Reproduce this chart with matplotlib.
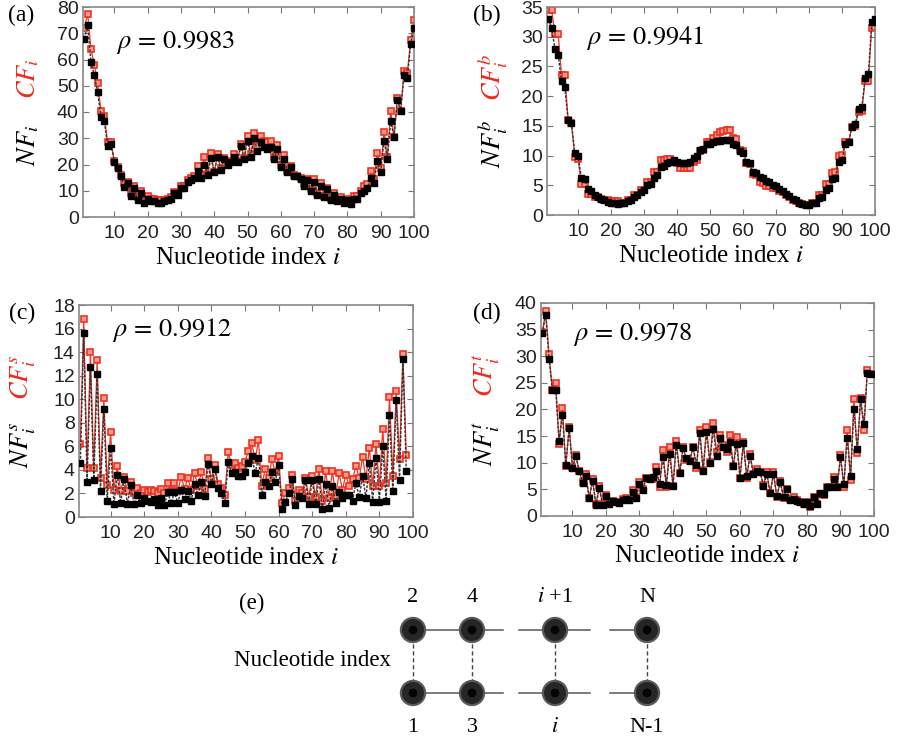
import numpy as np
import matplotlib
matplotlib.use("Agg")
import matplotlib.pyplot as plt

plt.rcParams['mathtext.fontset'] = 'stix'
plt.rcParams['font.family'] = ['Liberation Sans', 'DejaVu Sans']

# ---- data ----
nf_a = [68, 73, 59, 54, 47.5, 38, 36.5, 27, 28, 21, 18.5, 15.5, 11.5, 13, 8, 11, 6.5, 9, 5.5, 7,
        6, 6, 5.5, 5.5, 6, 6.5, 7, 9, 8.5, 11, 11, 13.5, 14, 15, 17.5, 15, 20, 16, 22.5, 17,
        23, 18, 22, 20, 21, 23, 21, 27, 22, 29, 23, 30, 25, 28.5, 26.5, 26, 26.5, 22, 26, 19,
        22, 17, 19, 15.5, 15.5, 14.5, 12, 14, 10, 13.5, 8.5, 12, 7.5, 10.5, 6.5, 8.5, 6, 7, 5.5, 6.5,
        5, 7, 7, 9, 10, 11, 15, 13, 21.5, 17, 29, 22, 36.5, 30.5, 44.5, 40.5, 54, 53, 66, 72]
cf_a = [72, 77.5, 64, 58, 51, 40.5, 38.5, 28.5, 28.5, 21.5, 19, 16, 13, 13.5, 9, 12, 7.5, 10, 6.5, 8,
        7, 7, 6.5, 6.5, 6.5, 7, 7.5, 9.5, 9, 12, 12, 14, 15, 15.5, 19.5, 16, 23, 16.5, 24.5, 17,
        24, 18.5, 22.5, 20.5, 21.5, 24, 21.5, 28, 22.5, 31, 24, 32, 27, 31, 29, 28.5, 29, 23, 27.5, 20,
        23.5, 17.5, 19.5, 16, 15.5, 15, 12.5, 14.5, 10.5, 14.5, 9, 13, 8, 11, 7, 9, 6.5, 7.5, 6, 7,
        5.5, 8, 8, 10, 12, 12.5, 17.5, 14.5, 24.5, 18.5, 32.5, 23, 40.5, 30.5, 45.5, 40.5, 55.5, 55, 67.5, 75]

nf_b = [33, 31.5, 28, 27, 22.5, 21.5, 16, 15.5, 10.5, 10, 6.3, 6, 4.3, 4, 3.3, 3, 2.7, 2.5, 2.2, 2.1,
        2, 1.9, 2, 2.1, 2.3, 2.5, 3, 3.3, 3.8, 4.2, 5, 5.3, 6.3, 6.8, 8, 8.3, 8.8, 8.9, 9.2, 9,
        8.8, 8.7, 8.8, 9, 9.6, 9.9, 11, 11.1, 12, 12, 12.3, 12.4, 12.5, 12.6, 12.7, 12.6, 12, 11.8, 10.8, 10.5,
        9, 8.8, 7.3, 7, 6.4, 6.2, 5.7, 5.5, 5.1, 4.9, 4.4, 4.1, 3.5, 3.2, 2.7, 2.5, 2, 1.9, 1.6, 1.7,
        2, 2, 2.8, 3, 4.2, 4.5, 6, 6.3, 9, 9.3, 12, 12.2, 14.8, 15.3, 17.8, 18.1, 23, 23.7, 32.4, 33]
cf_b = [34.5, 34.5, 30.5, 30.5, 23.5, 23.5, 16, 15.5, 9.8, 9.5, 5.2, 5.2, 3.5, 3.5, 3, 3, 2.7, 2.5, 2.5, 2.4,
        2.3, 2.3, 2.1, 2.1, 2.5, 2.6, 3.3, 3.4, 4.2, 4.2, 5.5, 5.6, 7.3, 7.3, 9.2, 9.2, 9.4, 9.4, 8.9, 8.7,
        7.9, 7.9, 7.9, 7.9, 8.9, 9.2, 10.8, 11, 12.2, 12.3, 13, 13.5, 14, 14.2, 14.3, 14.3, 13, 12.8, 11, 10.8,
        8.8, 8.6, 6.9, 6.7, 5.6, 5.4, 4.9, 4.8, 4.6, 4.5, 4.1, 3.9, 3.3, 3.1, 2.6, 2.4, 2, 1.9, 1.6, 1.6,
        2.1, 2.1, 3.3, 3.4, 5.2, 5.2, 7.1, 7.2, 10, 10.1, 12.2, 12.3, 14.8, 15, 17.3, 17.5, 22.6, 22.6, 31.5, 31.6]

nf_c = [4.6, 15.6, 3.0, 12.7, 3.1, 12.1, 2.2, 9.2, 1.4, 5.9, 1.1, 3.6, 1.2, 3.2, 1.1, 2.7, 1.1, 1.9, 1.2, 1.6,
        1.4, 1.3, 1.5, 1.0, 1.6, 1.0, 2.1, 1.2, 2.1, 1.2, 2.3, 1.5, 2.2, 1.4, 2.8, 1.9, 3.0, 1.8, 4.5, 2.8,
        4.1, 2.5, 2.0, 1.2, 4.7, 3.7, 3.8, 3.5, 3.5, 3.8, 4.6, 5.2, 3.7, 5.0, 1.9, 3.0, 2.6, 3.8, 3.0, 4.4,
        0.7, 1.3, 2.0, 3.2, 1.0, 1.8, 1.6, 3.1, 1.1, 3.1, 1.1, 3.2, 0.7, 2.8, 0.8, 2.6, 1.2, 2.1, 1.6, 1.9,
        1.9, 1.4, 2.9, 1.7, 3.5, 1.6, 4.6, 1.3, 5.0, 1.3, 6.0, 1.4, 8.7, 2.2, 9.9, 3.1, 13.4, 3.9]
cf_c = [6.2, 16.8, 4.2, 14.0, 4.2, 13.3, 3.3, 10.1, 2.7, 7.2, 2.3, 4.3, 2.2, 3.4, 2.2, 3.0, 2.0, 2.5, 2.0, 2.3,
        2.1, 2.3, 2.2, 2.0, 2.4, 2.0, 2.9, 2.2, 2.9, 2.2, 3.4, 2.4, 3.3, 2.3, 3.7, 2.6, 3.8, 2.4, 5.0, 3.2,
        4.4, 2.8, 2.5, 1.9, 5.5, 4.4, 4.6, 4.2, 4.3, 4.7, 5.6, 6.3, 4.8, 6.5, 2.6, 4.1, 3.3, 4.9, 3.8, 5.2,
        1.2, 2.0, 2.5, 3.6, 1.4, 2.3, 2.0, 3.3, 1.7, 3.5, 1.7, 4.1, 1.4, 3.9, 1.6, 3.9, 1.8, 3.7, 2.3, 3.6,
        2.6, 3.2, 4.3, 3.3, 5.1, 3.2, 5.9, 2.6, 6.2, 2.6, 7.5, 2.9, 10.2, 3.5, 10.7, 4.9, 13.8, 5.3]

nf_d = [34.3, 37.8, 29.5, 23.7, 23.6, 14, 19, 9.5, 16.5, 9, 11.2, 8.5, 6.2, 7.6, 3.3, 6.6, 2, 5.3, 2, 3.8,
        2.3, 2.8, 2.7, 2.5, 3, 3.2, 3, 4.6, 3.4, 6, 4.8, 7.2, 7, 7.3, 8.5, 6.1, 11, 5.8, 11.6, 5.7,
        13.3, 8, 12.8, 10.8, 10.4, 13, 9.5, 15.5, 8.5, 15.7, 10, 16.4, 11.3, 14.6, 13, 12.5, 13.9, 9.4, 13.5, 7.2,
        13.7, 7.5, 11.2, 7.8, 8.5, 8.2, 5.7, 7.8, 4.3, 7.8, 3.7, 6.3, 3.6, 5, 3, 3.2, 2.8, 2.6, 2.2, 2.6,
        1.8, 3.6, 2.3, 4.4, 4.1, 5.5, 5.4, 7, 5.5, 11, 6, 14.6, 7.5, 20.1, 12.5, 22, 17.3, 26.8, 26.6]
cf_d = [34.5, 38.5, 30.5, 23.6, 24.9, 13.6, 20.3, 9.4, 16.7, 9.2, 11.4, 8.4, 6.4, 7.8, 3.3, 6.9, 2.2, 5.6, 2.2, 4.0,
        2.3, 2.8, 2.6, 2.7, 3.1, 3.4, 3, 4.8, 3.6, 6.3, 5, 7.2, 7, 7.0, 9.2, 5.5, 12.4, 5.4, 13, 5.7,
        14.1, 8, 12.9, 10.6, 10.4, 13, 9, 16.2, 8.6, 16.7, 10.2, 17.5, 12.1, 15.3, 13.4, 12.1, 15.2, 9.3, 14.8, 7.2,
        13.9, 7.1, 11.7, 7.8, 8.8, 8.2, 5.9, 8.2, 4.3, 8.2, 3.5, 6.6, 3.4, 5, 3.1, 3.6, 3, 2.6, 2.2, 2.7,
        1.6, 3.5, 2.2, 4.2, 4.0, 5.4, 5.4, 7.4, 5.4, 11.4, 5.4, 16.1, 6.8, 22, 11.8, 22.1, 16.1, 27.5, 26.6]

rho = ['0.9983', '0.9941', '0.9912', '0.9978']
sup = ['', 'b', 's', 't']
panel = ['(a)', '(b)', '(c)', '(d)']
ymax = [80, 35, 18, 40]
ystep = [10, 5, 2, 5]

# bottom node row labels / top node row labels of the sketch in (e)
lab_bottom = ['1', '3', '$i$', 'N-1']
lab_top = ['2', '4', '$i$ +1', 'N']

W, H = 897, 740
fig = plt.figure(figsize=(W / 100, H / 100), dpi=100)

# axes boxes in pixels: left, top, right, bottom
boxes = [(83, 7, 414, 217), (547, 7, 875, 215), (79, 305, 413, 517), (541, 303, 874, 516)]
rho_pos = [(0.10, 0.83), (0.12, 0.85), (0.10, 0.88), (0.096, 0.85)]
panel_pos = [(21, 15), (487, 15), (22, 313), (487, 313)]
series = [(nf_a, cf_a), (nf_b, cf_b), (nf_c, cf_c), (nf_d, cf_d)]
serif = ['Liberation Serif', 'DejaVu Serif']

for k in range(4):
    l, t, r, b = boxes[k]
    ax = fig.add_axes([l / W, 1 - b / H, (r - l) / W, (b - t) / H])
    nf, cf = series[k]
    x_nf = np.arange(1, len(nf) + 1)
    x_cf = np.arange(1, len(cf) + 1)
    ax.plot(x_nf, nf, color='#333333', lw=1.0, ls=(0, (2, 1)), marker='s', ms=4.4,
            mfc='black', mec='black', zorder=3)
    ax.plot(x_cf, cf, color='#ee2a1a', lw=0.9, marker='s', ms=4.6,
            mfc='#ff9a88', mec='#ee2a1a', mew=1.2, zorder=2, alpha=0.95)
    ax.set_xlim(0.6, 100)
    ax.set_ylim(0, ymax[k])
    ax.set_xticks(range(10, 101, 10))
    ax.set_yticks(range(0, ymax[k] + 1, ystep[k]))
    ax.tick_params(direction='in', top=True, right=True, length=4, width=0.8,
                   color='#777777', labelsize=14, labelcolor='#222222', pad=3)
    ax.tick_params(axis='x', pad=6)
    for s in ax.spines.values():
        s.set_color('#888888')
        s.set_linewidth(1.2)
    ax.set_xlabel('Nucleotide index $i$', family=serif, fontsize=18, labelpad=3)
    ax.text(rho_pos[k][0], rho_pos[k][1], r'$\rho\,=\,%s$' % rho[k], transform=ax.transAxes,
            fontsize=19, va='center', ha='left')
    if sup[k]:
        nf_lab = r'$NF_i^{%s}$' % sup[k]
        cf_lab = r'$CF_i^{%s}$' % sup[k]
    else:
        nf_lab = r'$NF_i$'
        cf_lab = r'$CF_i$'
    lx = (l - 53) / W
    ax.text(-0.165, 0.34, nf_lab, transform=ax.transAxes, rotation=90,
            fontsize=19, ha='center', va='center', color='black')
    ax.text(-0.165, 0.66, cf_lab, transform=ax.transAxes, rotation=90,
            fontsize=19, ha='center', va='center', color='#ee2a1a')
    fig.text(panel_pos[k][0] / W, 1 - panel_pos[k][1] / H, panel[k], family=serif,
             fontsize=17, ha='center', va='center')

# ---- sketch (e) ----
ex = fig.add_axes([0, 0, 1, 1], facecolor='none')
ex.set_xlim(0, W)
ex.set_ylim(H, 0)
ex.axis('off')
cols = [413, 472, 555, 647]
row_top, row_bot = 630, 693
stubs = [(413, 472), (472, 503), (519, 555), (555, 590), (610, 647)]
for a, c in stubs:
    for yy in (row_top, row_bot):
        ex.plot([a, c], [yy, yy], color='#4d5e4d', lw=1.1, zorder=1)
for cx in cols:
    ex.plot([cx, cx], [row_top, row_bot], color='#444444', lw=1.0, ls=(0, (3, 2)), zorder=1)
for yy in (row_top, row_bot):
    ex.scatter(cols, [yy] * len(cols), s=360, c='#5a5a5a', zorder=2, edgecolors='none')
    ex.scatter(cols, [yy] * len(cols), s=250, c='#262626', zorder=3, edgecolors='none')
    ex.scatter(cols, [yy] * len(cols), s=40, c='#050505', zorder=4, edgecolors='none')
for cx, lt, lb in zip(cols, lab_top, lab_bottom):
    ex.text(cx, 598, lt, family=serif, fontsize=16, ha='center', va='center')
    ex.text(cx, 728, lb, family=serif, fontsize=16, ha='center', va='center')
ex.text(252, 603, '(e)', family=serif, fontsize=16.5, ha='center', va='center')
ex.text(313, 660, 'Nucleotide index', family=serif, fontsize=16.5, ha='center', va='center')

fig.savefig('out.png', dpi=100)
